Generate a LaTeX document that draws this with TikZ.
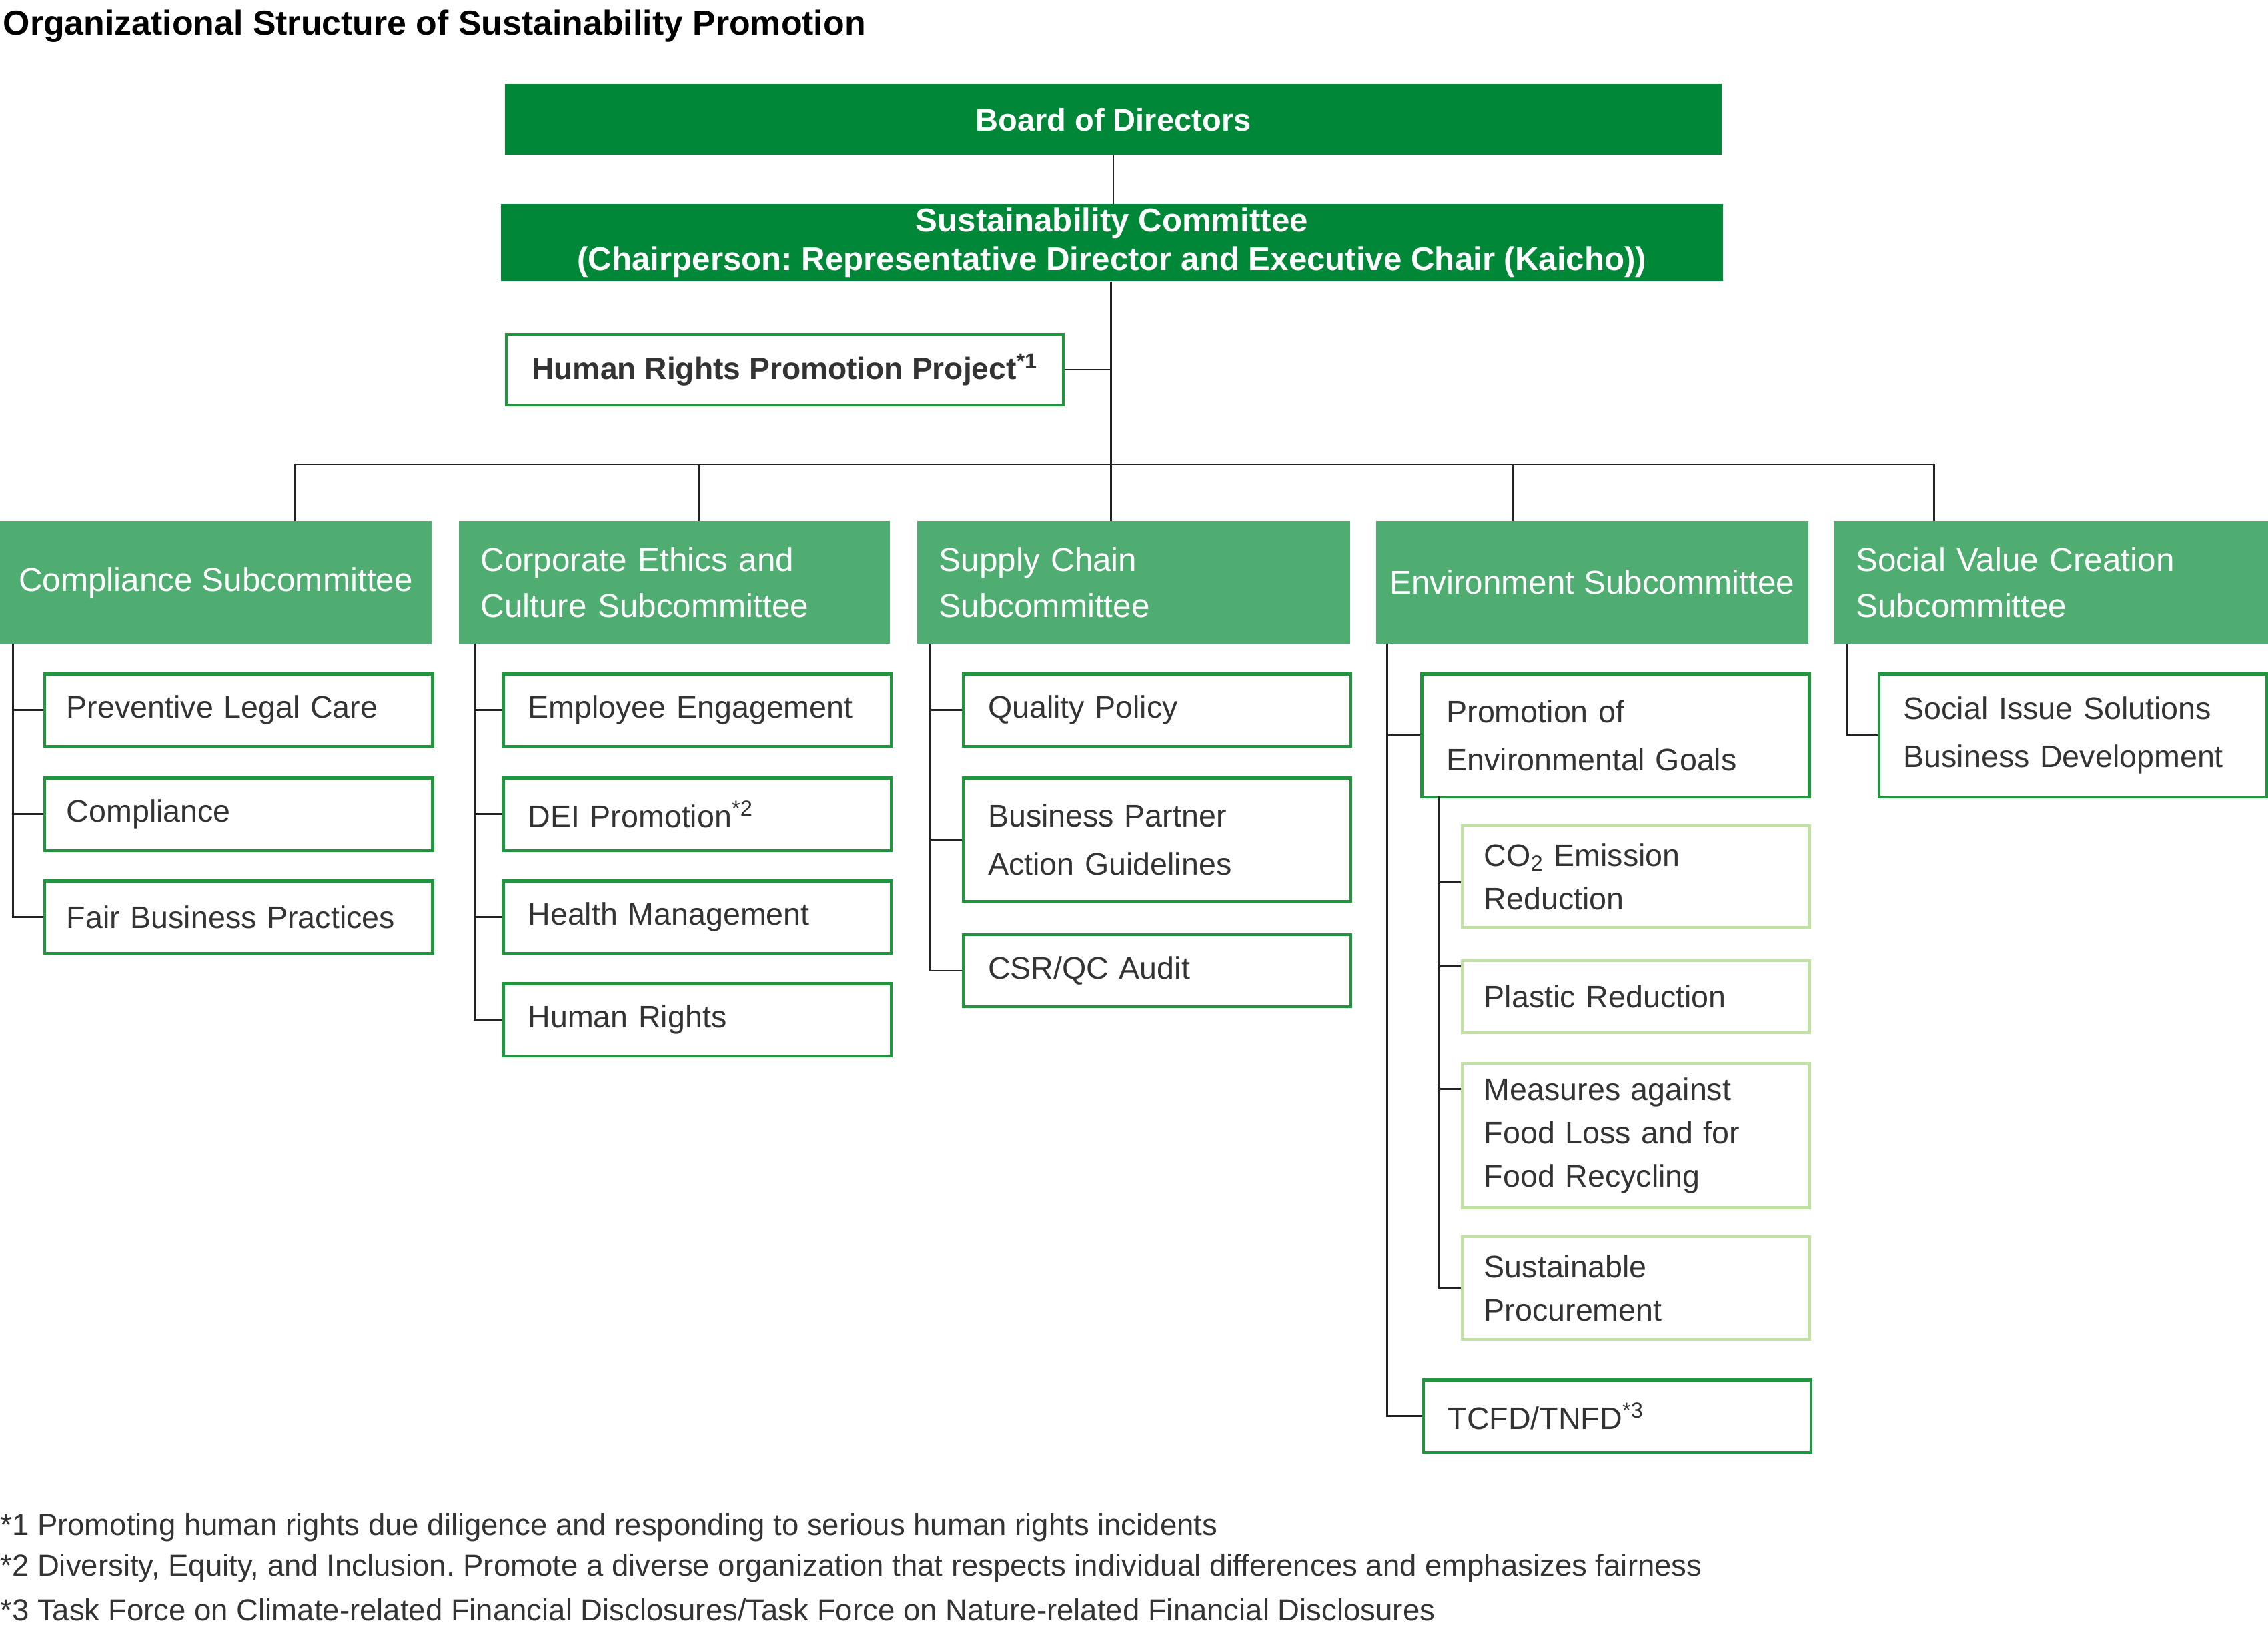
\documentclass[tikz,border=0pt]{standalone}
\usepackage{fontspec}
\setmainfont{Liberation Sans}
\usetikzlibrary{positioning,calc}
\frenchspacing

\definecolor{boardgreen}{RGB}{0,136,56}
\definecolor{subgreen}{RGB}{80,173,114}
\definecolor{taskgreen}{RGB}{34,150,62}
\definecolor{palegreen}{RGB}{192,224,164}
\definecolor{inkgray}{RGB}{51,51,51}
\definecolor{linegray}{RGB}{34,34,34}

\tikzset{
  board/.style={fill=boardgreen, text=white, anchor=north west, inner sep=0pt,
    align=center, font=\bfseries\fontsize{21.7}{27}\selectfont},
  subcom/.style={fill=subgreen, text=white, anchor=north west, inner xsep=15pt,
    inner ysep=0pt, minimum height=85pt, font=\fontsize{22.8}{32}\selectfont},
  project/.style={draw=taskgreen, line width=2pt, fill=white, text=inkgray,
    anchor=north west, inner sep=0pt, minimum width=385pt, minimum height=49pt,
    font=\bfseries\fontsize{21.3}{27}\selectfont},
  task/.style={draw=taskgreen, line width=2pt, fill=white, text=inkgray,
    anchor=north west, inner xsep=17pt, inner ysep=0pt, text width=234pt,
    align=left, minimum height=50pt, font=\fontsize{21.5}{33}\selectfont},
  subtask/.style={task, draw=palegreen, inner xsep=15pt, text width=210pt,
    font=\fontsize{21.5}{30}\selectfont},
  conn/.style={draw=linegray, line width=1.3pt},
  note/.style={anchor=west, inner sep=0pt, text=inkgray,
    font=\fontsize{21}{28}\selectfont},
}

\begin{document}
\begin{tikzpicture}[x=1pt, y=-1pt]
  \useasboundingbox (0,0) rectangle (1568,1141.4);

  \node[anchor=west, inner sep=0pt, text=black,
    font=\bfseries\fontsize{23.9}{28}\selectfont] (title) at (2,18)
    {Organizational Structure of Sustainability Promotion};

  % top of the structure
  \node[board, minimum width=841pt, minimum height=49pt] (bod) at (349,58) {Board of Directors};
  \node[board, minimum width=845pt, minimum height=53pt,
    font=\bfseries\fontsize{22.7}{27}\selectfont] (susc) at (346,141)
    {Sustainability Committee\\(Chairperson: Representative Director and Executive Chair (Kaicho))};
  \node[project] (hrpp) at (349,230) {Human Rights Promotion Project\textsuperscript{*1}};

  % subcommittees
  \node[subcom, minimum width=298pt, inner xsep=5pt, align=center] (comp) at (0,360) {Compliance Subcommittee};
  \node[subcom, text width=268pt, align=left] (ethics) at (317,360) {Corporate Ethics and\\Culture Subcommittee};
  \node[subcom, text width=269pt, align=left] (supply) at (634,360) {Supply Chain\\Subcommittee};
  \node[subcom, minimum width=299pt, inner xsep=5pt, align=center] (env) at (951,360) {Environment Subcommittee};
  \node[subcom, text width=270pt, align=left] (social) at (1268,360) {Social Value Creation\\Subcommittee};

  % compliance
  \node[task, inner xsep=15pt, text width=238pt] (legal) at (30,465) {Preventive Legal Care};
  \node[task, inner xsep=15pt, text width=238pt] (compl) at (30,537) {Compliance};
  \node[task, inner xsep=15pt, text width=238pt] (fair) at (30,608) {Fair Business Practices};

  % corporate ethics and culture
  \node[task] (engage) at (347,465) {Employee Engagement};
  \node[task] (dei) at (347,537) {DEI Promotion\textsuperscript{*2}};
  \node[task] (health) at (347,608) {Health Management};
  \node[task] (rights) at (347,679) {Human Rights};

  % supply chain
  \node[task] (quality) at (665,465) {Quality Policy};
  \node[task, minimum height=85pt] (partner) at (665,537) {Business Partner\\Action Guidelines};
  \node[task] (audit) at (665,645) {CSR/QC Audit};

  % environment
  \node[task, minimum height=85pt] (goals) at (982,465) {Promotion of\\Environmental Goals};
  \node[subtask, minimum height=70pt] (co2) at (1010,570) {CO\textsubscript{2} Emission\\Reduction};
  \node[subtask] (plastic) at (1010,663) {Plastic Reduction};
  \node[subtask, minimum height=100pt] (food) at (1010,734) {Measures against\\Food Loss and for\\Food Recycling};
  \node[subtask, minimum height=71pt] (procure) at (1010,854) {Sustainable\\Procurement};
  \node[task] (tcfd) at (983,953) {TCFD/TNFD\textsuperscript{*3}};

  % social value creation
  \node[task, minimum height=85pt] (issue) at (1298,465) {Social Issue Solutions\\Business Development};

  % connectors
  \coordinate (d1) at (204,321);
  \coordinate (d2) at (483,321);
  \coordinate (d3) at (768,321);
  \coordinate (d4) at (1046,321);
  \coordinate (d5) at (1337,321);
  \draw[conn] (bod.south) -- (bod.south |- susc.north);
  \draw[conn] (d3 |- susc.south) -- (d3);
  \draw[conn] (hrpp.east) -- (hrpp.east -| d3);
  \draw[conn] (d1) -- (d5);
  \foreach \d/\s in {d1/comp, d2/ethics, d3/supply, d4/env, d5/social}
    \draw[conn] (\d) -- (\d |- \s.north);

  \coordinate (cspine) at (9,445);
  \draw[conn] (cspine) |- (fair.west);
  \foreach \n in {legal, compl}
    \draw[conn] (cspine |- \n.west) -- (\n.west);

  \coordinate (espine) at (328,445);
  \draw[conn] (espine) |- (rights.west);
  \foreach \n in {engage, dei, health}
    \draw[conn] (espine |- \n.west) -- (\n.west);

  \coordinate (sspine) at (643,445);
  \draw[conn] (sspine) |- (audit.west);
  \foreach \n in {quality, partner}
    \draw[conn] (sspine |- \n.west) -- (\n.west);

  \coordinate (vspine) at (959,445);
  \draw[conn] (vspine) |- (tcfd.west);
  \draw[conn] (vspine |- goals.west) -- (goals.west);

  \coordinate (gspine) at (995,550);
  \coordinate (co2b) at ([yshift=-4pt]co2.west);
  \coordinate (plasticb) at ([yshift=21pt]plastic.west);
  \coordinate (foodb) at ([yshift=32pt]food.west);
  \draw[conn] (gspine) |- (procure.west);
  \foreach \n in {co2b, plasticb, foodb}
    \draw[conn] (gspine |- \n) -- (\n);

  \coordinate (xspine) at (1277,445);
  \draw[conn] (xspine) |- (issue.west);

  % notes
  \node[note] (n1) at (0,1056) {*1 Promoting human rights due diligence and responding to serious human rights incidents};
  \node[note] (n2) at (0,1084) {*2 Diversity, Equity, and Inclusion. Promote a diverse organization that respects individual differences and emphasizes fairness};
  \node[note] (n3) at (0,1113) {*3 Task Force on Climate-related Financial Disclosures/Task Force on Nature-related Financial Disclosures};
\end{tikzpicture}
\end{document}
